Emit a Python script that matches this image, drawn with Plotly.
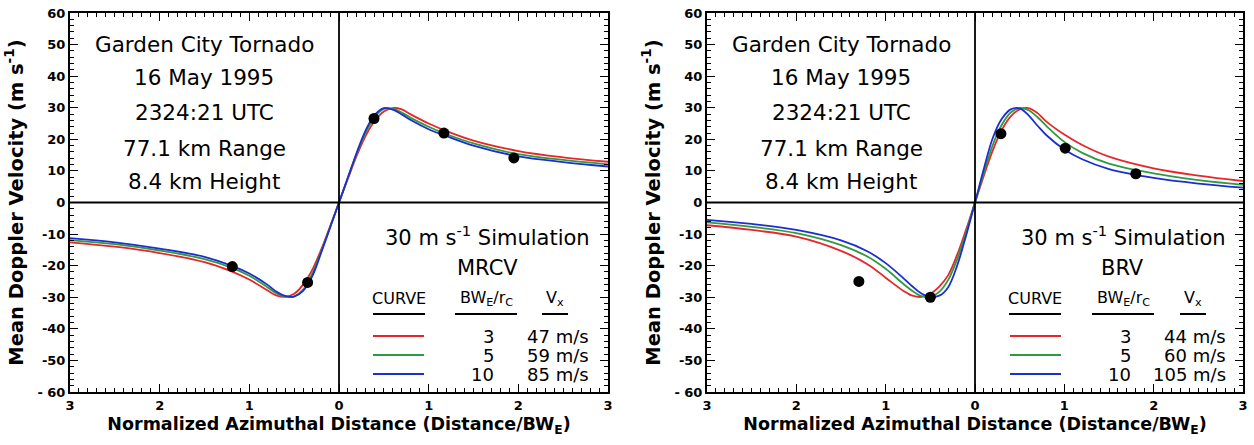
import plotly.graph_objects as go

# ---------------- data ----------------
x_pts = [-3, -2.5, -2, -1.5, -1.2, -1.0, -0.8, -0.7, -0.6, -0.5, -0.4, -0.3, -0.2, -0.1, 0,
         0.1, 0.2, 0.3, 0.4, 0.5, 0.6, 0.7, 0.8, 1.0, 1.2, 1.5, 2.0, 2.5, 3.0]

# MRCV panel (left)
mrcv_r3 = [-12.6, -14.0, -16.0, -18.9, -21.8, -24.4, -27.8, -29.4, -29.9, -28.9, -26.0, -21.4, -15.0, -7.6, 0,
           7.6, 15.0, 21.3, 25.9, 28.8, 29.9, 29.5, 27.9, 25.0, 22.6, 19.6, 16.3, 14.3, 12.9]
mrcv_r5 = [-11.9, -13.2, -15.2, -17.9, -20.6, -23.2, -26.8, -28.7, -29.8, -29.7, -27.6, -22.6, -15.6, -7.9, 0,
           7.9, 15.6, 22.3, 27.1, 29.6, 29.7, 28.5, 26.8, 24.0, 21.6, 18.7, 15.3, 13.5, 12.1]
mrcv_r10 = [-11.3, -12.6, -14.6, -17.2, -20.0, -22.5, -26.0, -28.2, -29.6, -29.8, -28.0, -23.5, -16.0, -8.0, 0,
            8.0, 16.0, 23.0, 27.8, 29.9, 29.4, 27.9, 26.1, 23.2, 21.0, 18.0, 14.6, 12.8, 11.4]
mrcv_obs_x = [-1.19, -0.35, 0.39, 1.17, 1.95]
mrcv_obs_y = [-20.3, -25.3, 26.6, 22.0, 14.1]

# BRV panel (right)
brv_r3 = [-7.2, -8.7, -10.8, -15.3, -19.6, -23.8, -28.0, -29.5, -29.9, -28.9, -26.6, -23.0, -16.6, -8.6, 0,
          8.6, 16.6, 23.0, 27.3, 29.5, 29.9, 28.3, 25.6, 21.5, 18.2, 14.5, 10.8, 8.5, 6.8]
brv_r5 = [-6.3, -7.7, -9.7, -13.5, -17.2, -21.0, -25.8, -28.0, -29.6, -29.9, -28.3, -24.5, -18.0, -9.5, 0,
          9.5, 18.3, 24.6, 28.5, 29.9, 29.2, 27.0, 24.2, 19.2, 15.7, 12.3, 9.2, 7.1, 5.6]
brv_r10 = [-5.5, -6.8, -8.7, -12.0, -15.5, -19.2, -24.0, -26.6, -28.8, -29.9, -29.5, -26.8, -20.0, -10.5, 0,
           10.8, 20.5, 26.5, 29.5, 29.8, 27.6, 24.3, 21.3, 16.8, 13.7, 10.6, 7.8, 6.0, 4.7]
brv_obs_x = [-1.30, -0.50, 0.29, 1.01, 1.80]
brv_obs_y = [-25.0, -30.0, 21.8, 17.2, 9.1]

ratios = ["3", "5", "10"]
mrcv_vx = ["47 m/s", "59 m/s", "85 m/s"]
brv_vx = ["44 m/s", "60 m/s", "105 m/s"]

x_tickvals = [-3, -2, -1, 0, 1, 2, 3]
x_ticktext = ["3", "2", "1", "0", "1", "2", "3"]
y_tickvals = [-60, -50, -40, -30, -20, -10, 0, 10, 20, 30, 40, 50, 60]
y_ticktext = ["- 60", "-50", "-40", "-30", "-20", "-10", "0", "10", "20", "30", "40", "50", "60"]

info_lines = ["Garden City Tornado", "16 May 1995", "2324:21 UTC", "77.1 km Range", "8.4 km Height"]

colors = ["#e8262a", "#2f9a3f", "#1c2ed0"]

W, H = 1254, 445
L, T, R, B = 70, 13, W - 1243, H - 392
PW, PH = W - L - R, H - T - B
FONT = "DejaVu Sans"

fig = go.Figure()

panels = [
    ("x", "y", [mrcv_r3, mrcv_r5, mrcv_r10], mrcv_obs_x, mrcv_obs_y),
    ("x2", "y2", [brv_r3, brv_r5, brv_r10], brv_obs_x, brv_obs_y),
]
for xa, ya, curves, ox, oy in panels:
    for c, col in zip(curves, colors):
        fig.add_trace(go.Scatter(x=x_pts, y=c, mode="lines", xaxis=xa, yaxis=ya,
                                 line=dict(color=col, width=1.8, shape="spline", smoothing=1.0),
                                 showlegend=False, hoverinfo="skip"))
    fig.add_trace(go.Scatter(x=ox, y=oy, mode="markers", xaxis=xa, yaxis=ya,
                             marker=dict(color="black", size=11), showlegend=False))

def xaxis(domain, anchor):
    return dict(domain=domain, anchor=anchor, range=[-3, 3], tickvals=x_tickvals, ticktext=x_ticktext,
                ticks="inside", ticklen=8, tickwidth=1.2, tickcolor="black", mirror="allticks",
                showline=True, linecolor="black", linewidth=2, showgrid=False,
                zeroline=False, automargin=False, ticklabeloverflow="allow",
                minor=dict(ticks="inside", dtick=0.1, ticklen=4, tickwidth=1, tickcolor="black", showgrid=False),
                tickfont=dict(family=FONT, size=13, color="black", weight="bold"),
                title=dict(text="Normalized Azimuthal Distance (Distance/BW<sub>E</sub>)",
                           font=dict(family=FONT, size=17.5, color="black", weight="bold"), standoff=6))

def yaxis(domain, anchor):
    return dict(domain=domain, anchor=anchor, range=[-60, 60], tickvals=y_tickvals, ticktext=y_ticktext,
                ticks="inside", ticklen=8, tickwidth=1.2, tickcolor="black", mirror="allticks",
                showline=True, linecolor="black", linewidth=2, showgrid=False,
                zeroline=False, automargin=False, ticklabeloverflow="allow",
                minor=dict(ticks="inside", dtick=2, ticklen=4, tickwidth=1, tickcolor="black", showgrid=False),
                tickfont=dict(family=FONT, size=13, color="black", weight="bold"),
                title=dict(text="Mean Doppler Velocity (m s<sup>-1</sup>)",
                           font=dict(family=FONT, size=19.5, color="black", weight="bold"), standoff=9))

fig.update_layout(
    width=W, height=H, margin=dict(l=L, r=R, t=T, b=B, autoexpand=False),
    paper_bgcolor="white", plot_bgcolor="white",
    xaxis=xaxis([0, (608 - L) / PW], "y"),
    yaxis=yaxis([0, 1], "x"),
    xaxis2=xaxis([(707 - L) / PW, 1], "y2"),
    yaxis2=yaxis([0, 1], "x2"),
)

# zero lines
for xa, ya in [("x", "y"), ("x2", "y2")]:
    fig.add_shape(type="line", xref=xa, yref=ya, x0=-3, x1=3, y0=0, y1=0, line=dict(color="black", width=1.8))
    fig.add_shape(type="line", xref=xa, yref=ya, x0=0, x1=0, y0=-60, y1=60, line=dict(color="black", width=1.8))

def px(xp):
    return (xp - L) / PW

def py(yp):
    return (H - B - yp) / PH

def ann(text, xp, yp, size, xanchor="center"):
    fig.add_annotation(text=text, x=px(xp), y=py(yp), xref="paper", yref="paper", showarrow=False,
                       xanchor=xanchor, yanchor="middle", font=dict(family=FONT, size=size, color="black"))

panel_cfg = [
    dict(info_cx=204, name="MRCV", vx=mrcv_vx, sim_r=592, name_cx=487,
         curve_cx=399, ratio_cx=486, vx_cx=555, line_x=(373, 424), num_r=496, vx_r=591),
    dict(info_cx=841, name="BRV", vx=brv_vx, sim_r=1228, name_cx=1122,
         curve_cx=1035, ratio_cx=1123, vx_cx=1193, line_x=(1010, 1061), num_r=1133, vx_r=1228),
]
info_y = [45, 78, 113, 148, 182]
for cfg in panel_cfg:
    for t, yy in zip(info_lines, info_y):
        ann(t, cfg["info_cx"], yy, 21.5)
    ann("30 m s<sup>-1</sup> Simulation", cfg["sim_r"], 236, 21, "right")
    ann(cfg["name"], cfg["name_cx"], 268, 21)
    ann("CURVE", cfg["curve_cx"], 298, 16)
    ann("BW<sub>E</sub>/r<sub>C</sub>", cfg["ratio_cx"], 298, 16)
    ann("V<sub>x</sub>", cfg["vx_cx"], 298, 16)
    for cx, half in [(cfg["curve_cx"], 26), (cfg["ratio_cx"], 31), (cfg["vx_cx"], 13)]:
        fig.add_shape(type="line", xref="paper", yref="paper", x0=px(cx - half), x1=px(cx + half),
                      y0=py(314), y1=py(314), line=dict(color="black", width=2))
    for i, (col, r, v) in enumerate(zip(colors, ratios, cfg["vx"])):
        yy = 336 + i * 19
        fig.add_shape(type="line", xref="paper", yref="paper", x0=px(cfg["line_x"][0]), x1=px(cfg["line_x"][1]),
                      y0=py(yy), y1=py(yy), line=dict(color=col, width=2))
        ann(r, cfg["num_r"], yy, 18, "right")
        ann(v, cfg["vx_r"], yy, 18, "right")

fig.write_html("out.html", config={"displayModeBar": False},
               post_script="document.body.style.margin='0';document.body.style.overflow='hidden';")
